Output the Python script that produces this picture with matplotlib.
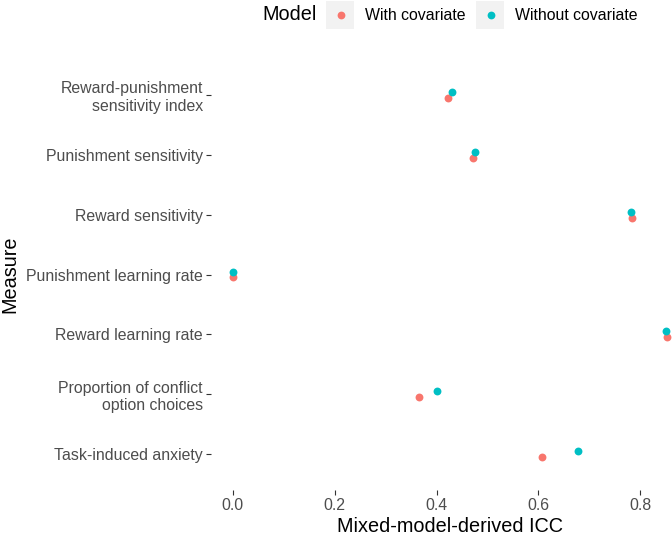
import matplotlib
matplotlib.use('Agg')
import matplotlib.pyplot as plt
from matplotlib.patches import Rectangle
from matplotlib.lines import Line2D

plt.rcParams['font.family'] = ['Liberation Sans', 'DejaVu Sans']

measures = ['Reward-punishment\nsensitivity index', 'Punishment sensitivity',
            'Reward sensitivity', 'Punishment learning rate',
            'Reward learning rate', 'Proportion of conflict\noption choices',
            'Task-induced anxiety']
models = ['With covariate', 'Without covariate']
icc_with = [0.423, 0.471, 0.784, 0.0, 0.853, 0.365, 0.608]
icc_without = [0.430, 0.475, 0.781, 0.0, 0.851, 0.401, 0.677]
colors = ['#F8766D', '#00BFC4']

W, H = 672, 534
fig = plt.figure(figsize=(W / 100, H / 100), dpi=100)
ax = fig.add_axes([211 / W, 1 - 490 / H, 478 / W, 431 / H])

ypos = list(range(len(measures)))
dodge = 0.05
ax.scatter(icc_with, [y + dodge for y in ypos], s=32, color=colors[0],
           linewidths=0, zorder=3, clip_on=False)
ax.scatter(icc_without, [y - dodge for y in ypos], s=32, color=colors[1],
           linewidths=0, zorder=3, clip_on=False)

allv = icc_with + icc_without
lo, hi = min(allv), max(allv)
pad = 0.05 * (hi - lo)
ax.set_xlim(lo - pad, hi + pad)
ax.set_ylim(len(measures) - 1 + 0.6, -0.6)
ax.set_yticks(ypos)
ax.set_yticklabels(measures, fontsize=11.4, color='#4D4D4D')
ax.set_xticks([0.0, 0.2, 0.4, 0.6, 0.8])
ax.set_xticklabels(['0.0', '0.2', '0.4', '0.6', '0.8'], fontsize=11.4, color='#4D4D4D')
ax.tick_params(axis='both', length=3.3, width=0.8, color='#333333', pad=2.5)
for s in ax.spines.values():
    s.set_visible(False)

fig.text(450 / W, 1 - 526 / H, 'Mixed-model-derived ICC', fontsize=14.3,
         ha='center', va='center')
fig.text(10 / W, 1 - 274 / H, 'Measure', fontsize=14.3, rotation=90,
         ha='center', va='center')

# legend on top
fig.text(262 / W, 1 - 15 / H, 'Model', fontsize=14.3, ha='left', va='center')
keys = [(326, 365), (476, 515)]
for (kx, tx), lab, c in zip(keys, models, colors):
    fig.add_artist(Rectangle((kx / W, 1 - 29 / H), 28 / W, 28 / H,
                             transform=fig.transFigure, facecolor='#F2F2F2',
                             edgecolor='none'))
    fig.add_artist(Line2D([(kx + 14.5) / W], [1 - 15 / H], marker='o',
                          markersize=5.6, color=c, markeredgewidth=0,
                          transform=fig.transFigure))
    fig.text(tx / W, 1 - 15 / H, lab, fontsize=11.4, ha='left', va='center')

fig.savefig('out.png', dpi=100)
